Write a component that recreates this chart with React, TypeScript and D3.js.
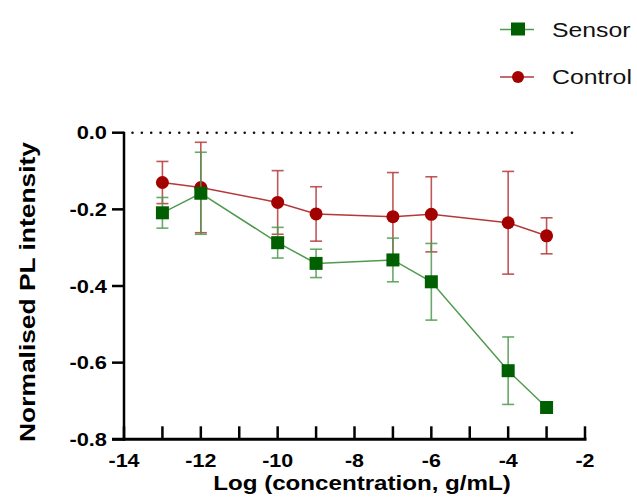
import React, { useEffect, useRef } from 'react';
import * as d3 from 'd3';

const concentrations = [-13, -12, -10, -9, -7, -6, -4, -3];
const sensorMean = [-0.209, -0.158, -0.287, -0.341, -0.332, -0.389, -0.621, -0.717];
const sensorErr = [0.04, 0.107, 0.04, 0.037, 0.057, 0.1, 0.088, 0.012];
const controlMean = [-0.13, -0.143, -0.182, -0.212, -0.219, -0.213, -0.235, -0.269];
const controlErr = [0.055, 0.118, 0.083, 0.071, 0.115, 0.098, 0.134, 0.047];
const xTicks = [-14, -12, -10, -8, -6, -4, -2];
const xMinorTicks = [-14, -13, -12, -11, -10, -9, -8, -7, -6, -5, -4, -3, -2];
const yTicks = [0, -0.2, -0.4, -0.6, -0.8];

const FONT = "'Liberation Sans', Arial, sans-serif";
// the original text is a bit stretched sideways
const SX = 1.18;

const App = () => {
    const ref = useRef<SVGSVGElement>(null);

    useEffect(() => {
        const svg = d3.select(ref.current);
        svg.selectAll('*').remove();

        const x = d3.scaleLinear().domain([-14, -2]).range([124, 585]);
        const y = d3.scaleLinear().domain([0, -0.8]).range([132.7, 439.3]);

        // dotted zero line
        svg.append('line')
            .attr('x1', x(-13.78)).attr('x2', x(-2.2))
            .attr('y1', y(0)).attr('y2', y(0))
            .attr('stroke', '#111').attr('stroke-width', 2.5)
            .attr('stroke-linecap', 'round')
            .attr('stroke-dasharray', '0.1 9.25');

        // y axis
        const yAxis = svg.append('g').attr('transform', `translate(${x(-14)},0)`);
        yAxis.append('line')
            .attr('y1', y(0) - 1).attr('y2', y(-0.8) + 1.5)
            .attr('stroke', '#000').attr('stroke-width', 2.5);
        yAxis.selectAll('.yt').data(yTicks).enter().append('line')
            .attr('x1', -12).attr('x2', 0)
            .attr('y1', d => y(d)).attr('y2', d => y(d))
            .attr('stroke', '#000').attr('stroke-width', 2.5);
        yAxis.selectAll('.yl').data(yTicks).enter().append('text')
            .attr('transform', d => `translate(-17,${y(d)}) scale(${SX},1)`)
            .attr('dy', '0.36em')
            .attr('text-anchor', 'end')
            .attr('font-family', FONT).attr('font-weight', 'bold').attr('font-size', 18.5)
            .text(d => d3.format('.1f')(d).replace('−', '-'));

        // x axis
        const xAxis = svg.append('g').attr('transform', `translate(0,${y(-0.8)})`);
        xAxis.append('line')
            .attr('x1', x(-14) - 12).attr('x2', x(-2) + 1.5)
            .attr('stroke', '#000').attr('stroke-width', 3);
        xAxis.selectAll('.xt').data(xMinorTicks).enter().append('line')
            .attr('x1', d => x(d)).attr('x2', d => x(d))
            .attr('y1', -13).attr('y2', 0)
            .attr('stroke', '#000').attr('stroke-width', 2.5);
        xAxis.selectAll('.xl').data(xTicks).enter().append('text')
            .attr('transform', d => `translate(${x(d)},27.5) scale(${SX - 0.02},1)`)
            .attr('text-anchor', 'middle')
            .attr('font-family', FONT).attr('font-weight', 'bold').attr('font-size', 18.5)
            .text(d => String(d));

        svg.append('text')
            .attr('transform', `translate(362,490) scale(${SX - 0.03},1)`)
            .attr('text-anchor', 'middle')
            .attr('font-family', FONT).attr('font-weight', 'bold').attr('font-size', 21)
            .text('Log (concentration, g/mL)');
        svg.append('text')
            .attr('transform', 'translate(35,292) rotate(-90)')
            .attr('text-anchor', 'middle')
            .attr('font-family', FONT).attr('font-weight', 'bold').attr('font-size', 22)
            .attr('textLength', 300).attr('lengthAdjust', 'spacingAndGlyphs')
            .text('Normalised PL intensity');

        const series = [
            { name: 'Control', mean: controlMean, err: controlErr, color: '#a30000', line: '#b5393a', shape: 'circle' },
            { name: 'Sensor', mean: sensorMean, err: sensorErr, color: '#005f00', line: '#4f9a4f', shape: 'square' },
        ];

        series.forEach(s => {
            const pts = concentrations.map((c, i) => ({ c, m: s.mean[i], e: s.err[i] }));
            const g = svg.append('g');
            g.append('path')
                .datum(pts)
                .attr('fill', 'none')
                .attr('stroke', s.line).attr('stroke-width', 1.5)
                .attr('d', d3.line<any>().x(d => x(d.c)).y(d => y(d.m)));
            const eb = g.selectAll('.eb').data(pts).enter().append('g')
                .attr('stroke', s.line).attr('stroke-width', 1.6).attr('stroke-opacity', 0.85);
            eb.append('line')
                .attr('x1', d => x(d.c)).attr('x2', d => x(d.c))
                .attr('y1', d => y(d.m + d.e)).attr('y2', d => y(d.m - d.e));
            eb.append('line')
                .attr('x1', d => x(d.c) - 6).attr('x2', d => x(d.c) + 6)
                .attr('y1', d => y(d.m + d.e)).attr('y2', d => y(d.m + d.e));
            eb.append('line')
                .attr('x1', d => x(d.c) - 6).attr('x2', d => x(d.c) + 6)
                .attr('y1', d => y(d.m - d.e)).attr('y2', d => y(d.m - d.e));
            if (s.shape === 'circle') {
                g.selectAll('.mk').data(pts).enter().append('circle')
                    .attr('cx', d => x(d.c)).attr('cy', d => y(d.m)).attr('r', 6.5)
                    .attr('fill', s.color);
            } else {
                g.selectAll('.mk').data(pts).enter().append('rect')
                    .attr('x', d => x(d.c) - 6.5).attr('y', d => y(d.m) - 6.5)
                    .attr('width', 13).attr('height', 13)
                    .attr('fill', s.color);
            }
        });

        // legend
        const legend = [
            { name: 'Sensor', color: '#005f00', line: '#4f9a4f', shape: 'square', cy: 29.5 },
            { name: 'Control', color: '#a30000', line: '#b5393a', shape: 'circle', cy: 77 },
        ];
        legend.forEach(l => {
            const g = svg.append('g');
            g.append('line').attr('x1', 500).attr('x2', 534).attr('y1', l.cy).attr('y2', l.cy)
                .attr('stroke', l.line).attr('stroke-width', 1.5);
            if (l.shape === 'circle') {
                g.append('circle').attr('cx', 518).attr('cy', l.cy).attr('r', 6).attr('fill', l.color);
            } else {
                g.append('rect').attr('x', 511).attr('y', l.cy - 7).attr('width', 14).attr('height', 13).attr('fill', l.color);
            }
            g.append('text')
                .attr('transform', `translate(552,${l.cy}) scale(1.24,1)`)
                .attr('dy', '0.36em')
                .attr('font-family', FONT).attr('font-size', 20).attr('fill', '#111')
                .text(l.name);
        });
    }, []);

    return (
        <svg ref={ref} width={637} height={502}
            style={{ position: 'absolute', left: 0, top: 0, background: '#fff' }} />
    );
};

export default App;
